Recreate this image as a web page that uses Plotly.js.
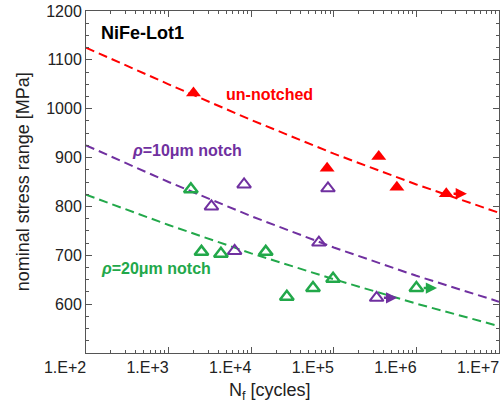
<!DOCTYPE html>
<html>
<head>
<meta charset="utf-8">
<script src="https://cdn.plot.ly/plotly-3.0.1.min.js"></script>
<style>html,body{margin:0;padding:0;background:#fff;}#chart{width:502px;height:404px;}</style>
</head>
<body>
<div id="chart"></div>
<script>
// ---- data ----
const unNotchedN = [2000, 83000, 350000, 580000, 2300000];
const unNotchedS = [1032, 878, 902, 839, 826];
const notch10N = [3300, 6300, 8200, 66000, 85000, 330000];
const notch10S = [800, 709, 845, 726, 837, 613];
const notch20N = [1860, 2500, 4300, 15000, 27000, 56000, 98000, 1000000];
const notch20S = [835, 707, 703, 707, 615, 633, 652, 633];
// fitted (dashed) curves read at decades
const fitN = [1e2, 1e3, 1e4, 1e5, 1e6, 1e7];
const fitUnNotched = [1125, 1050, 977, 908, 845, 787];
const fitNotch10 = [925, 850, 780, 716, 658, 605];
const fitNotch20 = [824, 762, 704, 651, 601, 555];
// runouts (index of run-out point in each series)
const runoutUn = 4, runout10 = 5, runout20 = 7;
// ticks
const xTickVals = [1e2, 1e3, 1e4, 1e5, 1e6, 1e7];
const xTickText = ['1.E+2', '1.E+3', '1.E+4', '1.E+5', '1.E+6', '1.E+7'];
const yTickVals = [600, 700, 800, 900, 1000, 1100, 1200];

const RED = '#ff0000', PURPLE = '#7030a0', GREEN = '#22a84a';
const FONT = 'Liberation Sans, Arial, sans-serif';

const dashLine = (y, c) => ({x: fitN, y: y, type: 'scatter', mode: 'lines',
  line: {color: c, width: 2, dash: '9px,5px'}, hoverinfo: 'skip', showlegend: false});

const traces = [
  dashLine(fitUnNotched, RED),
  dashLine(fitNotch10, PURPLE),
  dashLine(fitNotch20, GREEN),
  {x: unNotchedN, y: unNotchedS, type: 'scatter', mode: 'markers',
   marker: {symbol: 'triangle-up', size: 13, color: RED}, showlegend: false},
  {x: notch10N, y: notch10S, type: 'scatter', mode: 'markers',
   marker: {symbol: 'triangle-up-open', size: 12, color: PURPLE, line: {width: 2, color: PURPLE}}, showlegend: false},
  {x: notch20N, y: notch20S, type: 'scatter', mode: 'markers',
   marker: {symbol: 'triangle-up-open', size: 12, color: GREEN, line: {width: 2.5, color: GREEN}}, showlegend: false}
];

function runoutArrow(N, S, c) {
  const lx = Math.log10(N);
  return {x: lx + 0.25, y: S, xref: 'x', yref: 'y', ax: lx + 0.07, ay: S, axref: 'x', ayref: 'y',
    showarrow: true, arrowhead: 2, arrowsize: 0.9, arrowwidth: 2.5, arrowcolor: c, text: ''};
}

const annotations = [
  {text: '<b>NiFe-Lot1</b>', x: 0.137, y: 0.936, xref: 'paper', yref: 'paper', showarrow: false,
   font: {family: FONT, size: 18, color: '#000'}, xanchor: 'center', yanchor: 'middle'},
  {text: '<b>un-notched</b>', x: 0.444, y: 0.757, xref: 'paper', yref: 'paper', showarrow: false,
   font: {family: FONT, size: 16, color: RED}, xanchor: 'center', yanchor: 'middle'},
  {text: '<b><i>ρ</i>=10μm notch</b>', x: 0.2446, y: 0.591, xref: 'paper', yref: 'paper', showarrow: false,
   font: {family: FONT, size: 16, color: PURPLE}, xanchor: 'center', yanchor: 'middle'},
  {text: '<b><i>ρ</i>=20μm notch</b>', x: 0.1695, y: 0.246, xref: 'paper', yref: 'paper', showarrow: false,
   font: {family: FONT, size: 16, color: GREEN}, xanchor: 'center', yanchor: 'middle'},
  {text: 'N<sub>f</sub> [cycles]', x: 0.4455, y: -0.114, xref: 'paper', yref: 'paper', showarrow: false,
   font: {family: FONT, size: 18, color: '#222'}, xanchor: 'center', yanchor: 'middle'},
  {text: 'nominal stress range [MPa]', x: -0.152, y: 0.5, xref: 'paper', yref: 'paper', showarrow: false,
   textangle: -90, font: {family: FONT, size: 18, color: '#222'}, xanchor: 'center', yanchor: 'middle'},
  runoutArrow(unNotchedN[runoutUn], unNotchedS[runoutUn], RED),
  runoutArrow(notch10N[runout10], notch10S[runout10], PURPLE),
  runoutArrow(notch20N[runout20], notch20S[runout20], GREEN)
];

const layout = {
  width: 502, height: 404,
  margin: {l: 86, r: 3, t: 11, b: 51},
  paper_bgcolor: '#fff', plot_bgcolor: '#fff',
  font: {family: FONT, size: 16, color: '#222'},
  xaxis: {type: 'log', range: [2, 7], tickmode: 'array', tickvals: xTickVals, ticktext: xTickText,
    ticks: 'inside', ticklen: 6, tickcolor: '#555', showline: true, linecolor: '#555', linewidth: 1,
    mirror: 'ticks', showgrid: false, zeroline: false, ticklabelshift: -21,
    tickfont: {family: FONT, size: 16, color: '#222'},
    minor: {ticks: 'inside', ticklen: 3, tickcolor: '#555', dtick: 'D1', showgrid: false}},
  yaxis: {range: [500, 1200], tickmode: 'array', tickvals: yTickVals,
    ticksuffix: '\u00a0\u00a0',
    ticks: 'inside', ticklen: 6, tickcolor: '#555', showline: true, linecolor: '#555', linewidth: 1,
    mirror: 'ticks', showgrid: false, zeroline: false,
    tickfont: {family: FONT, size: 16, color: '#222'},
    minor: {ticks: 'inside', ticklen: 3, tickcolor: '#555', tickmode: 'linear', tick0: 500, dtick: 25, showgrid: false}},
  annotations: annotations,
  showlegend: false
};

Plotly.newPlot('chart', traces, layout, {staticPlot: true, displayModeBar: false});
</script>
</body>
</html>
